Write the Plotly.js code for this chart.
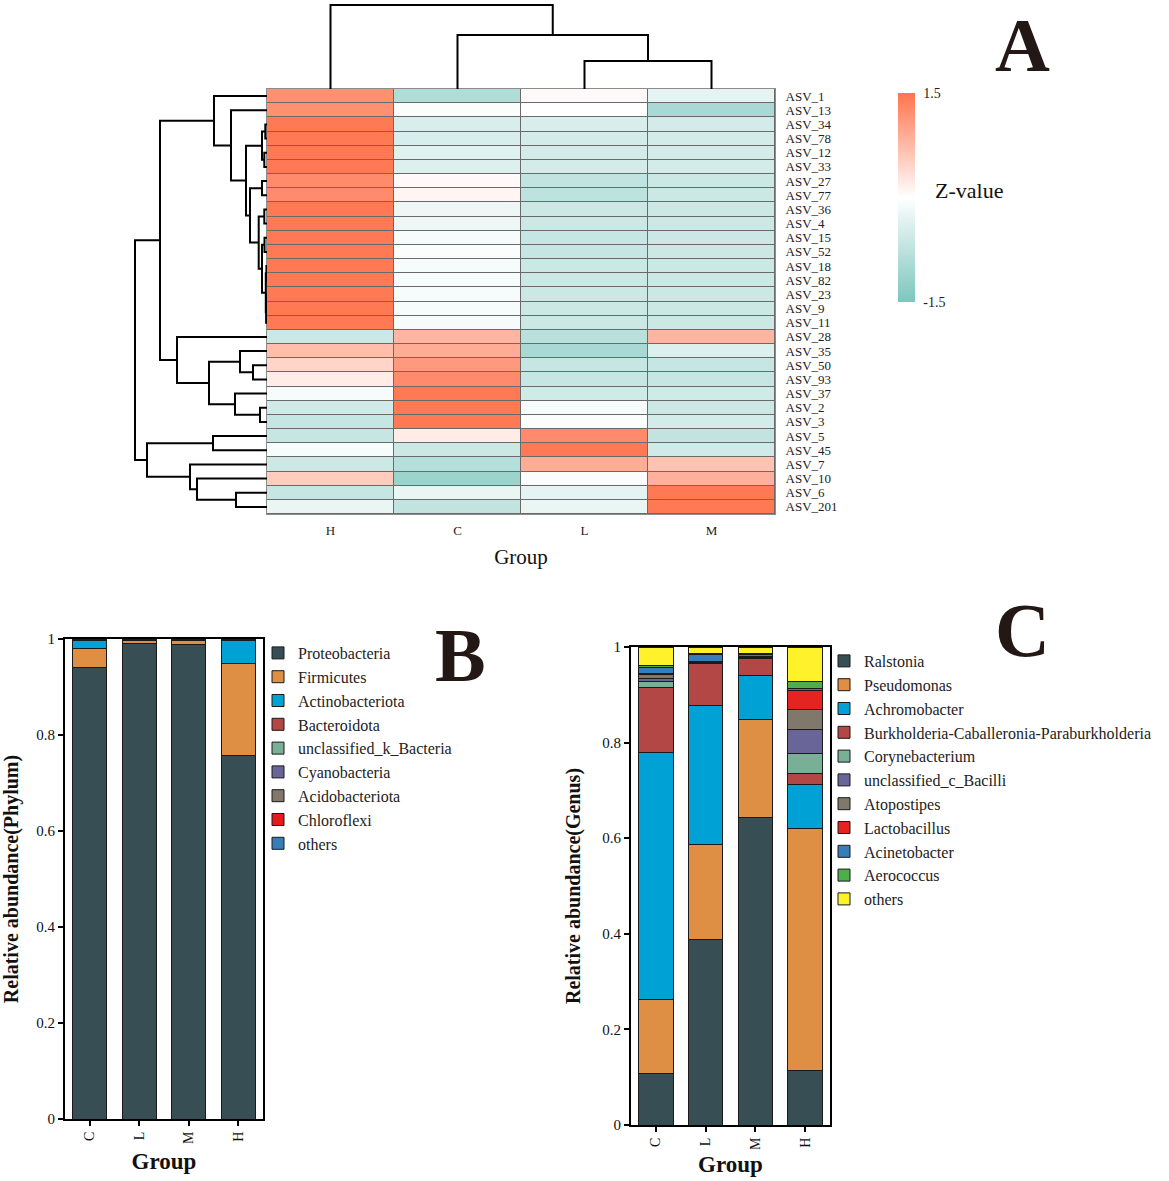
<!DOCTYPE html>
<html><head><meta charset="utf-8">
<script src="https://cdn.plot.ly/plotly-3.0.1.min.js"></script>
<style>body{margin:0;background:#fff}</style>
</head><body><div id="chart" style="width:1169px;height:1181px"></div>
<script>
const W = 1169, H = 1181;
const FONT = 'Liberation Serif, Times New Roman, serif';

// ---------- Panel A data ----------
const heatGroups = ['H', 'C', 'L', 'M'];
const asvLabels = ['ASV_1','ASV_13','ASV_34','ASV_78','ASV_12','ASV_33','ASV_27','ASV_77','ASV_36','ASV_4',
  'ASV_15','ASV_52','ASV_18','ASV_82','ASV_23','ASV_9','ASV_11','ASV_28','ASV_35','ASV_50','ASV_93','ASV_37',
  'ASV_2','ASV_3','ASV_5','ASV_45','ASV_7','ASV_10','ASV_6','ASV_201'];
const zH = [1.2,1.2,1.45,1.45,1.45,1.45,1.25,1.25,1.45,1.45,1.45,1.45,1.45,1.45,1.45,1.45,1.45,
  -0.6,0.7,0.45,0.2,-0.1,-0.55,-0.65,-0.65,-0.1,-0.6,0.55,-0.65,-0.25];
const zC = [-0.9,-0.05,-0.45,-0.45,-0.35,-0.4,0.05,0.1,-0.2,-0.2,-0.1,-0.05,-0.1,-0.1,-0.1,-0.1,-0.1,
  0.8,0.9,1.1,1.25,1.45,1.45,1.45,0.2,-0.6,-0.85,-1.15,-0.25,-0.7];
const zL = [0.05,0.0,-0.45,-0.5,-0.5,-0.5,-0.7,-0.75,-0.6,-0.6,-0.65,-0.65,-0.6,-0.6,-0.6,-0.6,-0.6,
  -0.8,-1.0,-0.65,-0.65,-0.55,-0.1,-0.05,1.25,1.45,0.9,-0.05,-0.3,-0.25];
const zM = [-0.3,-1.0,-0.5,-0.5,-0.5,-0.5,-0.6,-0.6,-0.6,-0.6,-0.6,-0.6,-0.6,-0.6,-0.6,-0.6,-0.6,
  0.8,-0.4,-0.65,-0.65,-0.55,-0.6,-0.5,-0.7,-0.55,0.65,0.85,1.45,1.45];
// dendrograms: [height, left, right]; leaves are row / column indices
const rowTree = [132,
  [107,
    [53, 0, [36, 1, [21,
      [5, [1.7, 2, 3], [2.7, 4, 5]],
      [17, [5, 6, 7], [8.3, [2.7, 8, 9], [5, [2.5, 10, 11], [1.2, [0.6, 12, 13], [0.9, [0.4, 14, 15], 16]]]]]]]],
    [90, 17, [58, [27, 18, [14, 19, 20]], [32, 21, [7, 22, 23]]]]],
  [120, [54, 24, 25], [77, 26, [70, 27, [31, 28, 29]]]]];
const colTree = [84, 0, [54, 1, [28, 2, 3]]];

// ---------- Panel B data (phylum) ----------
const barGroups = ['C', 'L', 'M', 'H'];
const phylumNames = ['Proteobacteria','Firmicutes','Actinobacteriota','Bacteroidota','unclassified_k_Bacteria',
  'Cyanobacteria','Acidobacteriota','Chloroflexi','others'];
const phylumColors = ['#374E55','#DF8F44','#00A1D5','#B24745','#79AF97','#6A6599','#80796B','#E41A1C','#377EB8'];
const phylumC = [0.940,0.041,0.015,0.001,0.001,0.0005,0.0005,0.0005,0.0005];
const phylumL = [0.991,0.005,0.002,0.0005,0.0005,0.0003,0.0003,0.0002,0.0002];
const phylumM = [0.989,0.007,0.002,0.0005,0.0005,0.0003,0.0003,0.0002,0.0002];
const phylumH = [0.758,0.191,0.048,0.001,0.001,0.0005,0.0003,0.0001,0.0001];

// ---------- Panel C data (genus) ----------
const genusNames = ['Ralstonia','Pseudomonas','Achromobacter','Burkholderia-Caballeronia-Paraburkholderia',
  'Corynebacterium','unclassified_c_Bacilli','Atopostipes','Lactobacillus','Acinetobacter','Aerococcus','others'];
const genusColors = ['#374E55','#DF8F44','#00A1D5','#B24745','#79AF97','#6A6599','#80796B','#E52421','#377EB8','#4DAF4A','#FFF22B'];
const genusC = [0.107,0.156,0.517,0.136,0.011,0.008,0.008,0.002,0.013,0.003,0.039];
const genusL = [0.389,0.197,0.291,0.089,0.001,0.001,0.001,0.001,0.015,0.001,0.014];
const genusM = [0.644,0.205,0.091,0.035,0.002,0.001,0.001,0.001,0.005,0.001,0.014];
const genusH = [0.115,0.505,0.092,0.023,0.042,0.050,0.042,0.040,0.004,0.015,0.072];

// ---------- helpers ----------
const px = p => p / W;
const py = p => 1 - p / H;

function dendroLines(tree, hs, ps) {
  if (typeof tree === 'number') return { h: 0, p: tree };
  const a = dendroLines(tree[1], hs, ps);
  const b = dendroLines(tree[2], hs, ps);
  const h = tree[0];
  hs.push(a.h, h, h, b.h, null);
  ps.push(a.p, a.p, b.p, b.p, null);
  return { h: h, p: (a.p + b.p) / 2 };
}

const traces = [];

// heatmap underlay (cell borders) + heatmap
const zHeat = asvLabels.map((_, i) => [zH[i], zC[i], zL[i], zM[i]]);
const rowIdx = asvLabels.map((_, i) => i);
const colIdx = heatGroups.map((_, i) => i);
traces.push({
  type: 'heatmap', x: colIdx, y: rowIdx, z: zHeat.map(r => r.map(() => 0)),
  colorscale: [[0, '#6a6a6a'], [1, '#6a6a6a']], showscale: false, hoverinfo: 'skip',
  xaxis: 'x', yaxis: 'y'
});
traces.push({
  type: 'heatmap', x: colIdx, y: rowIdx, z: zHeat, zmin: -1.5, zmax: 1.5,
  xgap: 1, ygap: 1,
  colorscale: [[0, '#7cc6be'], [0.5, '#ffffff'], [1, '#ff744e']],
  colorbar: {
    x: px(898), xanchor: 'left', y: py(197.5), yanchor: 'middle',
    len: 209, lenmode: 'pixels', thickness: 17, thicknessmode: 'pixels',
    outlinewidth: 0, xpad: 0, ypad: 0,
    ticks: 'outside', ticklen: 6, tickcolor: 'rgba(0,0,0,0)',
    tickvals: [1.5, -1.5], ticktext: ['1.5', '-1.5'],
    tickfont: { family: FONT, size: 14, color: '#222' }
  },
  xaxis: 'x', yaxis: 'y',
  text: zHeat.map((r, i) => r.map((_, j) => asvLabels[i] + ' / ' + heatGroups[j])),
  hovertemplate: '%{text}: %{z}<extra></extra>'
});

// row dendrogram
{
  const hs = [], ps = [];
  dendroLines(rowTree, hs, ps);
  traces.push({ type: 'scatter', mode: 'lines', x: hs, y: ps, xaxis: 'x2', yaxis: 'y',
    line: { color: '#000', width: 2 }, hoverinfo: 'skip', showlegend: false });
}
// column dendrogram
{
  const hs = [], ps = [];
  dendroLines(colTree, hs, ps);
  traces.push({ type: 'scatter', mode: 'lines', x: ps, y: hs, xaxis: 'x', yaxis: 'y2',
    line: { color: '#000', width: 2 }, hoverinfo: 'skip', showlegend: false });
}

// stacked bars
const phylumByGroup = { C: phylumC, L: phylumL, M: phylumM, H: phylumH };
phylumNames.forEach((name, k) => {
  traces.push({
    type: 'bar', x: barGroups, y: barGroups.map(g => phylumByGroup[g][k]), name: name,
    marker: { color: phylumColors[k], line: { color: '#1a1a1a', width: 1 } },
    xaxis: 'x3', yaxis: 'y3', legend: 'legend'
  });
});
const genusByGroup = { C: genusC, L: genusL, M: genusM, H: genusH };
genusNames.forEach((name, k) => {
  traces.push({
    type: 'bar', x: barGroups, y: barGroups.map(g => genusByGroup[g][k]), name: name,
    marker: { color: genusColors[k], line: { color: '#1a1a1a', width: 1 } },
    xaxis: 'x4', yaxis: 'y4', legend: 'legend2'
  });
});

const hidden = { visible: false, showgrid: false, zeroline: false, fixedrange: true };
const barX = (dom, anchor, standoff) => ({
  domain: dom, anchor: anchor, type: 'category', showline: true, mirror: true, linecolor: '#000', linewidth: 2,
  ticks: 'outside', ticklen: 5, tickwidth: 1.5, tickcolor: '#000', tickangle: -90,
  tickfont: { family: FONT, size: 14, color: '#111' }, showgrid: false, zeroline: false,
  title: { text: 'Group', font: { family: FONT, size: 23, weight: 'bold', color: '#111' }, standoff: standoff }
});
const barY = (dom, anchor, title, standoff) => ({
  domain: dom, anchor: anchor, range: [0, 1], showline: true, mirror: true, linecolor: '#000', linewidth: 2,
  ticks: 'outside', ticklen: 5, tickwidth: 1.5, tickcolor: '#000',
  tickvals: [0, 0.2, 0.4, 0.6, 0.8, 1], ticktext: ['0', '0.2', '0.4', '0.6', '0.8', '1'],
  tickfont: { family: FONT, size: 15, color: '#111' }, showgrid: false, zeroline: false,
  title: { text: title, font: { family: FONT, size: 20, weight: 'bold', color: '#111' }, standoff: standoff }
});

const letter = (t, x, y) => ({ text: t, x: px(x), y: py(y), xref: 'paper', yref: 'paper', showarrow: false,
  xanchor: 'center', yanchor: 'middle', font: { family: FONT, size: 76, weight: 'bold', color: '#231815' } });

const layout = {
  width: W, height: H, margin: { l: 0, r: 0, t: 0, b: 0 },
  paper_bgcolor: '#fff', plot_bgcolor: 'rgba(0,0,0,0)',
  font: { family: FONT, color: '#111' },
  barmode: 'stack', bargap: 0.31,
  showlegend: true,
  xaxis: {
    domain: [px(267), px(775)], anchor: 'y', range: [-0.5, 3.5],
    tickvals: colIdx, ticktext: heatGroups, ticks: '', ticklabelstandoff: 4,
    tickfont: { family: FONT, size: 13, color: '#222' },
    showline: true, mirror: true, linecolor: '#8c8c8c', linewidth: 1,
    showgrid: false, zeroline: false,
    title: { text: 'Group', font: { family: FONT, size: 21, color: '#111' }, standoff: 12 }
  },
  yaxis: {
    domain: [py(514), py(89)], anchor: 'x', range: [29.5, -0.5], side: 'right',
    tickvals: rowIdx, ticktext: asvLabels, ticks: '', ticklabelstandoff: 7,
    tickfont: { family: FONT, size: 13, color: '#222' },
    showline: true, mirror: true, linecolor: '#8c8c8c', linewidth: 1,
    showgrid: false, zeroline: false
  },
  xaxis2: Object.assign({ domain: [px(130), px(267)], anchor: 'y', range: [137, 0] }, hidden),
  yaxis2: Object.assign({ domain: [py(89), py(3)], anchor: 'x', range: [0, 86] }, hidden),
  xaxis3: barX([px(65), px(263)], 'y3', 10),
  yaxis3: barY([py(1119), py(639)], 'x3', 'Relative abundance(Phylum)', 12),
  xaxis4: barX([px(631), px(830)], 'y4', 7),
  yaxis4: barY([py(1125), py(647)], 'x4', 'Relative abundance(Genus)', 16),
  legend: {
    x: px(258), y: py(636), xanchor: 'left', yanchor: 'top', traceorder: 'normal',
    font: { family: FONT, size: 16, color: '#222' }, bgcolor: 'rgba(0,0,0,0)'
  },
  legend2: {
    x: px(824), y: py(644), xanchor: 'left', yanchor: 'top', traceorder: 'normal',
    font: { family: FONT, size: 16, color: '#222' }, bgcolor: 'rgba(0,0,0,0)'
  },
  annotations: [
    { text: 'Z-value', x: px(969), y: py(190), xref: 'paper', yref: 'paper', showarrow: false,
      xanchor: 'center', yanchor: 'middle', font: { family: FONT, size: 22, color: '#111' } },
    letter('A', 1022, 45),
    letter('B', 460, 655),
    letter('C', 1022, 630)
  ]
};

Plotly.newPlot('chart', traces, layout, { displayModeBar: false, responsive: false });
</script>
</body></html>
